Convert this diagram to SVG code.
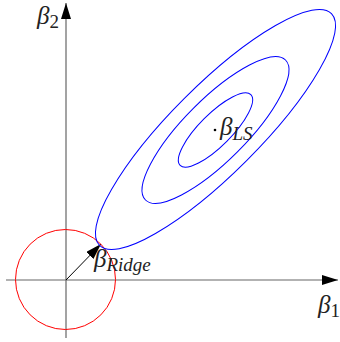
<svg xmlns="http://www.w3.org/2000/svg" width="340" height="342" viewBox="0 0 340 342">
<style>
.axis{stroke:#666;stroke-width:1.2;fill:none}
.ell{stroke:#0000ff;stroke-width:1;fill:none}
.lbl{font-family:"Liberation Serif",serif;font-style:italic;fill:#222}
.b{font-size:25px}
.s{font-size:19px}
</style>
<defs>
<marker id="ah" markerWidth="16" markerHeight="10" refX="16" refY="5" orient="auto" markerUnits="userSpaceOnUse">
<path d="M0,0 L16,5 L0,10 Z" fill="#000"/>
</marker>
</defs>
<rect width="340" height="342" fill="#fff"/>
<g id="connectors">
<line id="axis-b1" class="axis" x1="6" y1="280" x2="338" y2="280" marker-end="url(#ah)"/>
<line id="axis-b2" class="axis" x1="66" y1="338" x2="66" y2="3" marker-end="url(#ah)"/>
<line id="ridge-arrow" x1="66" y1="280" x2="101" y2="244" stroke="#000" stroke-width="1" marker-end="url(#ah)"/>
</g>
<g id="ridge-circle"><circle cx="65.5" cy="279.5" r="50" fill="none" stroke="#ff0000" stroke-width="1"/></g>
<g id="contours">
<ellipse class="ell" cx="215.5" cy="129.5" rx="164" ry="44" transform="rotate(-45 215.5 129.5)"/>
<ellipse class="ell" cx="215.5" cy="130" rx="99" ry="31" transform="rotate(-45 215.5 130)"/>
<ellipse class="ell" cx="215.5" cy="130" rx="50" ry="16" transform="rotate(-45 215.5 130)"/>
</g>
<g id="ls-point">
<circle cx="215" cy="130" r="1.3" fill="#000"/>
<text class="lbl" x="220" y="135"><tspan class="b">β</tspan><tspan class="s" dy="5">LS</tspan></text>
</g>
<g id="label-b2"><text class="lbl" x="37" y="24"><tspan class="b">β</tspan><tspan class="s" dy="4" font-style="normal">2</tspan></text></g>
<g id="label-b1"><text class="lbl" x="318" y="313"><tspan class="b">β</tspan><tspan class="s" dy="4" font-style="normal">1</tspan></text></g>
<g id="label-ridge"><text class="lbl" x="94" y="267"><tspan class="b">β</tspan><tspan class="s" dy="4">Ridge</tspan></text></g>
</svg>
